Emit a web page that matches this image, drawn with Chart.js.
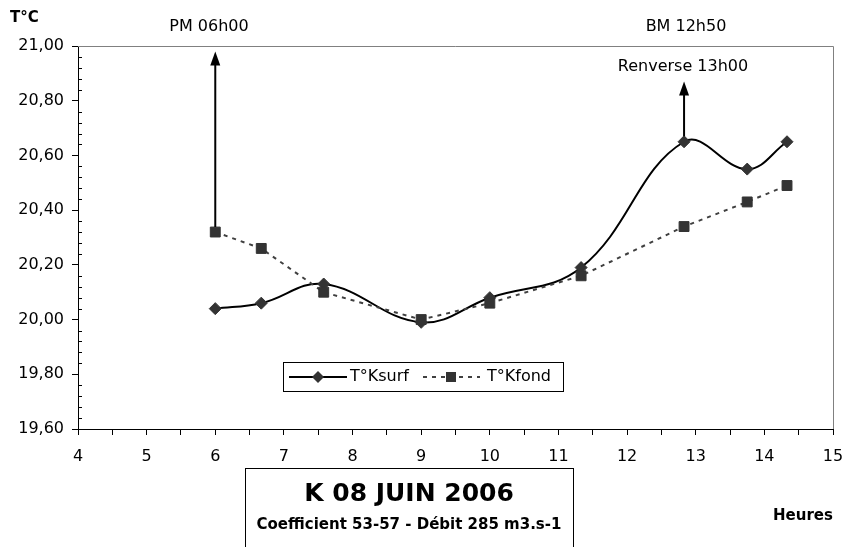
<!DOCTYPE html>
<html>
<head>
<meta charset="utf-8">
<script src="https://cdn.jsdelivr.net/npm/chart.js@4.4.1/dist/chart.umd.min.js"></script>
<style>
  body { margin: 0; background: #fff; }
  #tempChart { display: block; }
</style>
</head>
<body>
<canvas id="tempChart" width="847" height="547"></canvas>
<script>
// heures des mesures (decimales)
var hours = [6.0, 6.67, 7.58, 9.0, 10.0, 11.33, 12.83, 13.75, 14.33];
var kSurf = [20.04, 20.06, 20.13, 19.99, 20.08, 20.19, 20.65, 20.55, 20.65];
var kFond = [20.32, 20.26, 20.10, 20.00, 20.06, 20.16, 20.34, 20.43, 20.49];
var seriesNames = ["T°Ksurf", "T°Kfond"];

var FONT = "'DejaVu Sans', sans-serif";

function toPoints(ys) {
  return hours.map(function(h, i) { return {x: h, y: ys[i]}; });
}

function arrow(ctx, x, y0, y1) {
  ctx.save();
  ctx.strokeStyle = '#000';
  ctx.fillStyle = '#000';
  ctx.lineWidth = 2;
  ctx.beginPath();
  ctx.moveTo(x, y0);
  ctx.lineTo(x, y1 + 12);
  ctx.stroke();
  ctx.beginPath();
  ctx.moveTo(x, y1);
  ctx.lineTo(x - 5, y1 + 14);
  ctx.lineTo(x + 5, y1 + 14);
  ctx.closePath();
  ctx.fill();
  ctx.restore();
}

var extras = {
  id: 'extras',
  beforeDatasetsDraw: function(chart) {
    var ctx = chart.ctx, a = chart.chartArea;
    var ys = chart.scales.y;
    ctx.save();
    // cadre gris haut / droite
    ctx.strokeStyle = '#808080';
    ctx.lineWidth = 1;
    ctx.beginPath();
    ctx.moveTo(a.left, a.top + 0.5);
    ctx.lineTo(a.right + 0.5, a.top + 0.5);
    ctx.lineTo(a.right + 0.5, a.bottom);
    ctx.stroke();
    // petites graduations y (0,04)
    ctx.strokeStyle = '#000';
    for (var i = 1; i < 35; i++) {
      if (i % 5 === 0) continue;
      var py = Math.round(ys.getPixelForValue(19.6 + i * 0.04)) + 0.5;
      ctx.beginPath();
      ctx.moveTo(a.left, py);
      ctx.lineTo(a.left + 4, py);
      ctx.stroke();
    }
    ctx.restore();
  },
  afterDraw: function(chart) {
    var ctx = chart.ctx;
    var xs = chart.scales.x, ys = chart.scales.y;

    // fleches
    arrow(ctx, xs.getPixelForValue(6), ys.getPixelForValue(20.32) - 5, ys.getPixelForValue(20.98));
    arrow(ctx, xs.getPixelForValue(12.83), ys.getPixelForValue(20.67), ys.getPixelForValue(20.87));

    ctx.save();
    ctx.fillStyle = '#000';
    ctx.textBaseline = 'middle';
    ctx.textAlign = 'center';
    ctx.font = '16px ' + FONT;
    ctx.fillText('PM 06h00', 209, 27);
    ctx.fillText('BM 12h50', 686, 27);
    ctx.fillText('Renverse 13h00', 683, 67);

    ctx.font = 'bold 15px ' + FONT;
    ctx.textAlign = 'left';
    ctx.fillText('T°C', 10, 18);
    ctx.textAlign = 'center';
    ctx.font = 'bold 15px ' + FONT;
    ctx.fillText('Heures', 803, 516);

    // legende
    ctx.fillStyle = '#fff';
    ctx.fillRect(283.5, 362.5, 280, 29);
    ctx.strokeStyle = '#000';
    ctx.lineWidth = 1;
    ctx.strokeRect(283.5, 362.5, 280, 29);
    var ly = 377;
    ctx.lineWidth = 2;
    ctx.beginPath();
    ctx.moveTo(289, ly);
    ctx.lineTo(347, ly);
    ctx.stroke();
    ctx.fillStyle = '#333';
    ctx.beginPath();
    ctx.moveTo(318, ly - 6);
    ctx.lineTo(324, ly);
    ctx.lineTo(318, ly + 6);
    ctx.lineTo(312, ly);
    ctx.closePath();
    ctx.fill();
    ctx.strokeStyle = '#404040';
    ctx.setLineDash([4, 5]);
    ctx.beginPath();
    ctx.moveTo(423, ly);
    ctx.lineTo(480, ly);
    ctx.stroke();
    ctx.setLineDash([]);
    ctx.fillRect(446, ly - 5, 10, 10);
    ctx.fillStyle = '#000';
    ctx.textAlign = 'left';
    ctx.font = '16px ' + FONT;
    ctx.fillText(seriesNames[0], 350, ly);
    ctx.fillText(seriesNames[1], 487, ly);

    // cartouche titre
    ctx.strokeStyle = '#000';
    ctx.lineWidth = 1;
    ctx.strokeRect(245.5, 468.5, 328, 90);
    ctx.textAlign = 'center';
    ctx.font = 'bold 25px ' + FONT;
    ctx.fillText('K 08 JUIN 2006', 409, 494);
    ctx.font = 'bold 15px ' + FONT;
    ctx.fillText('Coefficient 53-57 - Débit 285 m3.s-1', 409, 525);
    ctx.restore();
  }
};

var ctx = document.getElementById("tempChart");
var tempChart = new Chart(ctx, {
  type: 'line',
  data: {
    datasets: [
      {
        label: seriesNames[1],
        data: toPoints(kFond),
        borderColor: '#404040',
        borderWidth: 2,
        borderDash: [4, 5],
        tension: 0,
        pointStyle: 'rect',
        pointRadius: 7,
        pointBackgroundColor: '#333',
        pointBorderColor: '#333',
        pointBorderWidth: 1
      },
      {
        label: seriesNames[0],
        data: toPoints(kSurf),
        borderColor: '#000',
        borderWidth: 2,
        tension: 0.4,
        pointStyle: 'rectRot',
        pointRadius: 6,
        pointBackgroundColor: '#333',
        pointBorderColor: '#333',
        pointBorderWidth: 1
      }
    ]
  },
  options: {
    responsive: false,
    animation: false,
    devicePixelRatio: 1,
    layout: { padding: { top: 46, right: 14, left: 0, bottom: 0 } },
    plugins: { legend: { display: false }, tooltip: { enabled: false } },
    scales: {
      x: {
        type: 'linear',
        min: 4,
        max: 15,
        afterFit: function(s) { s.height = 118; },
        ticks: {
          stepSize: 0.5,
          autoSkip: false,
          maxRotation: 0,
          color: '#000',
          padding: 3,
          font: { family: FONT, size: 16, lineHeight: 2.3 },
          callback: function(v) { return Number.isInteger(v) ? v : ''; }
        },
        grid: { drawOnChartArea: false, tickLength: 6, color: '#000' },
        border: { color: '#000', width: 1 }
      },
      y: {
        min: 19.6,
        max: 21,
        afterFit: function(s) { s.width = 78; },
        ticks: {
          stepSize: 0.2,
          color: '#000',
          padding: 8,
          font: { family: FONT, size: 16 },
          callback: function(v) { return v.toFixed(2).replace('.', ','); }
        },
        grid: { drawOnChartArea: false, tickLength: 6, color: '#000' },
        border: { color: '#000', width: 1 }
      }
    }
  },
  plugins: [extras]
});
</script>
</body>
</html>
